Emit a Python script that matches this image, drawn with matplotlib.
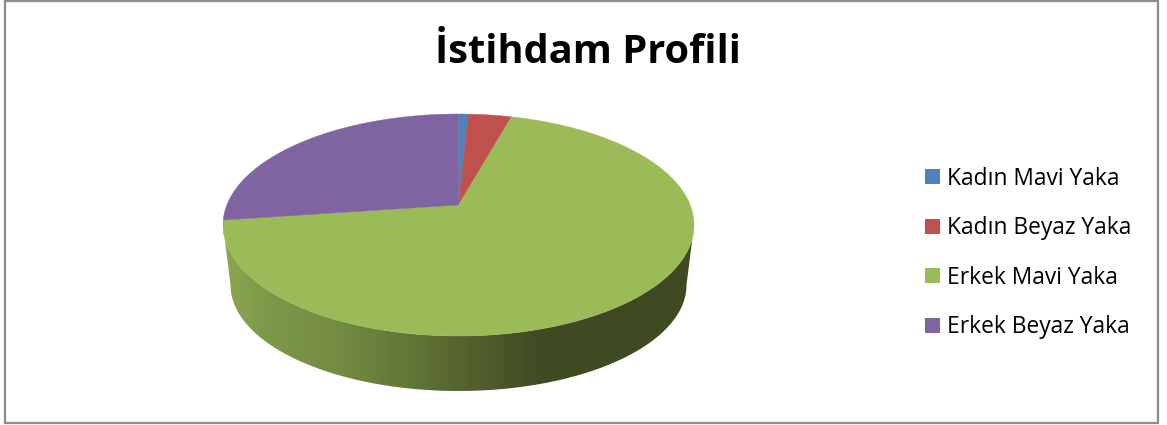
import numpy as np
import matplotlib
matplotlib.use("Agg")
import matplotlib.pyplot as plt
from matplotlib.colors import LinearSegmentedColormap
from matplotlib.patches import Rectangle, PathPatch
from matplotlib.path import Path

# shares (percent)
labels = ["Kadın Mavi Yaka", "Kadın Beyaz Yaka", "Erkek Mavi Yaka", "Erkek Beyaz Yaka"]
values = [0.67, 2.94, 72.1, 24.29]
colors = ["#4f81bd", "#c0504d", "#9bbb59", "#8064a2"]

title = "İstihdam Profili"

W, H = 1167, 425
plt.rcParams['font.family'] = ['Open Sans', 'DejaVu Sans']
fig = plt.figure(figsize=(W / 100, H / 100), dpi=100)
ax = fig.add_axes([0, 0, 1, 1])
ax.set_xlim(0, W)
ax.set_ylim(H, 0)
ax.axis("off")

# outer frame
ax.add_patch(Rectangle((5, 1), 1153, 422, fc="white", ec="#8c8c8c", lw=1.6))

# pie geometry, in pixels
cx, cy, rx, ry = 458.5, 225, 235.5, 111
apex_x, apex_y = 458.5, 205
bcy, brx, bry = 285, 228, 106


def arc(a0, a1, x0, y0, a, b):
    t = np.radians(np.linspace(a0, a1, 200))
    return x0 + a * np.sin(t), y0 - b * np.cos(t)


# side wall, horizontal gradient clipped to the visible band
tx, ty = arc(270, 90, cx, cy, rx, ry)
bx, by = arc(90, 270, cx, bcy, brx, bry)
wall = Path(np.column_stack([np.r_[tx, bx], np.r_[ty, by]]))
shade = LinearSegmentedColormap.from_list("shade", [
    (0.00, "#8ca653"), (0.08, "#7f9a4a"), (0.23, "#748d43"), (0.42, "#5f7236"),
    (0.50, "#566430"), (0.66, "#414c24"), (1.00, "#3f4a22")])
img = ax.imshow(np.linspace(0, 1, 256)[None, :], cmap=shade, aspect="auto",
                extent=(cx - rx, cx + rx, 395, 220), zorder=2)
patch = PathPatch(wall, transform=ax.transData, fc="none", ec="none")
ax.add_patch(patch)
img.set_clip_path(patch)
ax.set_xlim(0, W)
ax.set_ylim(H, 0)

# top surface, clockwise from twelve o'clock
edges = np.r_[0, np.cumsum(values)] / np.sum(values) * 360
for i in range(len(values)):
    x, y = arc(edges[i], edges[i + 1], cx, cy, rx, ry)
    ax.fill(np.r_[apex_x, x], np.r_[apex_y, y], color=colors[i], lw=0.3, zorder=3)

ax.text(588, 52, title, ha="center", va="center", fontsize=28.6, fontweight="bold",
        color="black", zorder=4)

# legend
handles = [Rectangle((0, 0), 1, 1, fc=c, ec="none") for c in colors]
leg = fig.legend(handles, labels, loc="center left", bbox_to_anchor=(925 / W, 1 - 253 / H),
                 frameon=False, fontsize=16.4, labelspacing=1.12, handlelength=0.66,
                 handleheight=0.66, handletextpad=0.32, borderpad=0, borderaxespad=0)

fig.savefig("out.png", dpi=100)
